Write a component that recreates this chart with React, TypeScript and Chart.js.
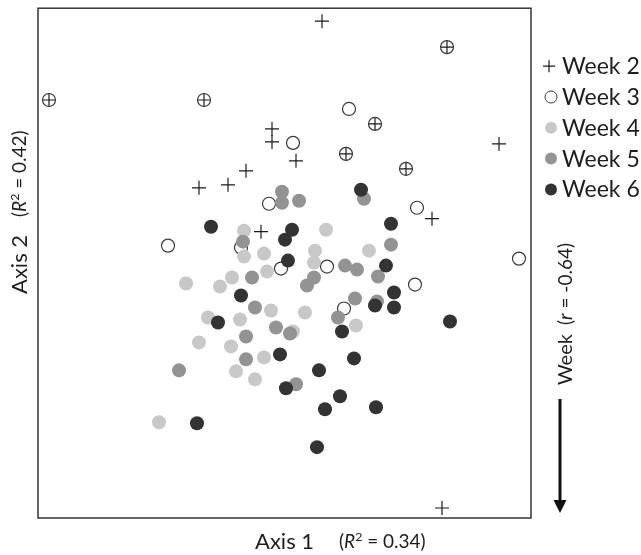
import React, { useEffect, useRef } from "react";
import { Chart, registerables } from "chart.js";

Chart.register(...registerables);

// Ordination scores (axis units: Axis 1 spans 38..531, Axis 2 spans 7..518, downward)
const week2X = [322, 447, 49, 204, 375, 272, 272, 296, 346, 406, 499, 246, 228, 199, 432, 261, 442];
const week2Y = [20, 46, 99, 99, 123, 128, 141, 160, 153, 168, 143, 170, 184, 187, 218, 231, 508];

const week3X = [447, 49, 204, 375, 346, 406, 349, 293, 269, 168, 241, 281, 417, 519, 327, 415, 344];
const week3Y = [46, 99, 99, 123, 153, 168, 108, 142, 203, 245, 247, 268, 207, 258, 266, 284, 308];

const week4X = [244, 244, 264, 267, 232, 220, 186, 326, 315, 314, 369, 208, 240, 271, 305, 199, 231, 264, 236, 255, 293, 159, 356];
const week4Y = [230, 256, 253, 271, 277, 286, 283, 229, 250, 262, 250, 317, 319, 310, 312, 342, 346, 357, 371, 379, 331, 422, 325];

const week5X = [282, 282, 299, 243, 252, 307, 314, 364, 391, 345, 357, 378, 355, 377, 255, 276, 290, 246, 246, 179, 296, 338];
const week5Y = [191, 202, 200, 241, 277, 285, 277, 198, 244, 265, 269, 276, 298, 301, 307, 327, 333, 336, 359, 370, 384, 317];

const week6X = [211, 292, 285, 288, 241, 361, 391, 386, 394, 375, 394, 218, 280, 286, 197, 450, 342, 354, 319, 340, 325, 376, 317];
const week6Y = [226, 229, 239, 260, 295, 189, 223, 265, 292, 305, 307, 322, 354, 388, 423, 321, 331, 358, 370, 396, 409, 407, 447];

const seriesLabels = ["Week 2", "Week 3", "Week 4", "Week 5", "Week 6"];
const axis1Label = "Axis 1";
const axis1R2 = "0.34";
const axis2Label = "Axis 2";
const axis2R2 = "0.42";
const weekLabel = "Week";
const weekR = "-0.64";

const xRange = [38, 531];
const yRange = [7, 518];

const FONT = "Lato, 'Open Sans', sans-serif";
const TEXT = "#1e1e1e";

type Run = { t: string; italic?: boolean; sup?: boolean };

function drawRuns(ctx: CanvasRenderingContext2D, runs: Run[], x: number, y: number, size: number) {
  let cx = x;
  for (const r of runs) {
    const fs = r.sup ? size * 0.65 : size;
    ctx.font = `${r.italic ? "italic " : ""}${fs}px ${FONT}`;
    const dy = r.sup ? -size * 0.38 : 0;
    ctx.fillText(r.t, cx, y + dy);
    cx += ctx.measureText(r.t).width;
  }
}

const zip = (xs: number[], ys: number[]) => xs.map((x, i) => ({ x, y: ys[i] }));

const decorPlugin = {
  id: "decor",
  afterDraw(chart: any) {
    const ctx: CanvasRenderingContext2D = chart.ctx;
    const a = chart.chartArea;
    ctx.save();
    // plot box
    ctx.strokeStyle = "#333333";
    ctx.lineWidth = 1.5;
    ctx.strokeRect(a.left, a.top, a.right - a.left, a.bottom - a.top);

    ctx.fillStyle = TEXT;
    ctx.textBaseline = "alphabetic";
    ctx.textAlign = "left";

    // legend
    const ds = chart.data.datasets;
    const lx = a.right + 18;
    const ly0 = a.top + 58;
    const step = 30.8;
    ds.forEach((d: any, i: number) => {
      const cy = ly0 + i * step;
      ctx.save();
      if (d.pointStyle === "cross") {
        ctx.strokeStyle = d.borderColor;
        ctx.lineWidth = 1.2;
        ctx.beginPath();
        ctx.moveTo(lx - 6, cy);
        ctx.lineTo(lx + 6, cy);
        ctx.moveTo(lx, cy - 6);
        ctx.lineTo(lx, cy + 6);
        ctx.stroke();
      } else {
        ctx.beginPath();
        ctx.arc(lx + 2, cy, 6, 0, Math.PI * 2);
        if (d.borderWidth > 0) {
          ctx.strokeStyle = d.borderColor;
          ctx.lineWidth = 1;
          ctx.stroke();
        } else {
          ctx.fillStyle = d.backgroundColor;
          ctx.fill();
        }
      }
      ctx.restore();
      ctx.font = `23px ${FONT}`;
      ctx.fillStyle = TEXT;
      ctx.fillText(d.label, lx + 13, cy + 8);
    });

    // x axis title
    ctx.font = `22px ${FONT}`;
    ctx.fillText(axis1Label, 255, 549);
    drawRuns(ctx, [{ t: "(" }, { t: "R", italic: true }, { t: "2", sup: true }, { t: " = " + axis1R2 + ")" }], 339, 548, 19);

    // y axis title (rotated)
    ctx.save();
    ctx.translate(27, 294);
    ctx.rotate(-Math.PI / 2);
    ctx.font = `22px ${FONT}`;
    ctx.fillText(axis2Label, 0, 0);
    drawRuns(ctx, [{ t: "(" }, { t: "R", italic: true }, { t: "2", sup: true }, { t: " = " + axis2R2 + ")" }], 77, -1, 19);
    ctx.restore();

    // week vector label
    ctx.save();
    ctx.translate(572, 385);
    ctx.rotate(-Math.PI / 2);
    ctx.font = `20px ${FONT}`;
    ctx.fillText(weekLabel, 0, 0);
    drawRuns(ctx, [{ t: "(" }, { t: "r", italic: true }, { t: " = " + weekR + ")" }], 60, 0, 19);
    ctx.restore();

    // arrow
    ctx.strokeStyle = "#111111";
    ctx.fillStyle = "#111111";
    ctx.lineWidth = 3;
    ctx.beginPath();
    ctx.moveTo(560, 399);
    ctx.lineTo(560, 501);
    ctx.stroke();
    ctx.beginPath();
    ctx.moveTo(553.5, 500);
    ctx.lineTo(566.5, 500);
    ctx.lineTo(560, 513);
    ctx.closePath();
    ctx.fill();

    ctx.restore();
  },
};

export default function App() {
  const ref = useRef<HTMLCanvasElement | null>(null);
  useEffect(() => {
    if (!ref.current) return;
    const chart = new Chart(ref.current, {
      type: "scatter",
      data: {
        datasets: [
          {
            label: seriesLabels[0],
            data: zip(week2X, week2Y),
            pointStyle: "cross",
            pointRadius: 7,
            borderColor: "#1a1a1a",
            backgroundColor: "#1a1a1a",
            borderWidth: 1.2,
            order: 5,
          },
          {
            label: seriesLabels[1],
            data: zip(week3X, week3Y),
            pointStyle: "circle",
            pointRadius: 6.5,
            borderColor: "#3a3a3a",
            backgroundColor: "rgba(0,0,0,0)",
            borderWidth: 1.2,
            order: 4,
          },
          {
            label: seriesLabels[2],
            data: zip(week4X, week4Y),
            pointStyle: "circle",
            pointRadius: 7,
            borderWidth: 0,
            borderColor: "#c8c8c8",
            backgroundColor: "#c8c8c8",
            order: 3,
          },
          {
            label: seriesLabels[3],
            data: zip(week5X, week5Y),
            pointStyle: "circle",
            pointRadius: 7,
            borderWidth: 0,
            borderColor: "#939393",
            backgroundColor: "#939393",
            order: 2,
          },
          {
            label: seriesLabels[4],
            data: zip(week6X, week6Y),
            pointStyle: "circle",
            pointRadius: 7,
            borderWidth: 0,
            borderColor: "#333333",
            backgroundColor: "#333333",
            order: 1,
          },
        ],
      },
      options: {
        responsive: false,
        animation: false,
        events: [],
        layout: { padding: { left: 38, top: 7, right: 110, bottom: 37 } },
        plugins: { legend: { display: false }, tooltip: { enabled: false } },
        scales: {
          x: { type: "linear", min: xRange[0], max: xRange[1], display: false },
          y: { type: "linear", min: yRange[0], max: yRange[1], reverse: true, display: false },
        },
      },
      plugins: [decorPlugin],
    });
    return () => chart.destroy();
  }, []);
  return (
    <div style={{ position: "absolute", left: 0, top: 0, width: 641, height: 555, background: "#fff" }}>
      <canvas ref={ref} width={641} height={555} />
    </div>
  );
}
